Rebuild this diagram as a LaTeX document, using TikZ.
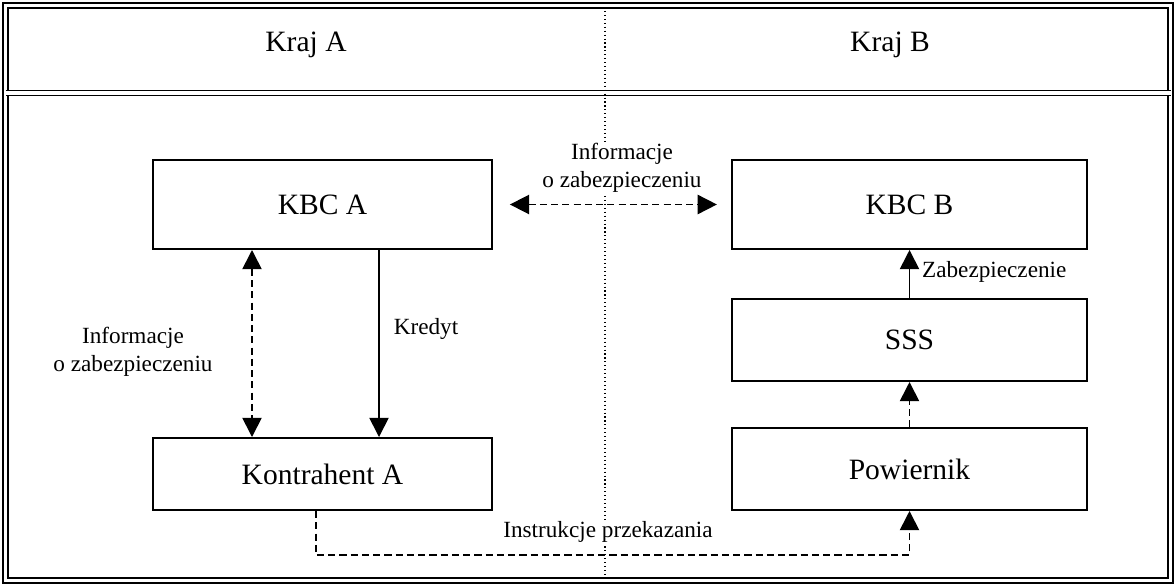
\documentclass[tikz,border=0pt]{standalone}
\usepackage{fontspec}
\setmainfont{Liberation Serif}
\usetikzlibrary{arrows.meta,positioning,calc}

\begin{document}
\begin{tikzpicture}[x=.025cm,y=-.025cm,>={Triangle[length=4.8mm,width=4.8mm]},line width=1pt,every node/.style={font=\fontsize{16.5}{20}\selectfont},box/.style={draw,line width=1.4pt,inner sep=0pt,font=\fontsize{21}{25}\selectfont},lbl/.style={align=center,fill=white,inner sep=1pt},flow/.style={->,line width=1.2pt},info/.style={flow,dash pattern=on 5pt off 3pt}]
\path[use as bounding box] (0,0) rectangle (1176,586);

% frame and countries
\draw[double,double distance=2.2pt,line width=1.2pt] (5.5,5.5) rectangle (1170.5,580.5);
\draw[double,double distance=2.2pt,line width=1.2pt] (5.5,93) -- (1170.5,93);
\draw[dotted,line width=.8pt] (605,7) -- (605,579);
\node[font=\fontsize{21}{25}\selectfont] (krajA) at (306,45) {Kraj A};
\node[font=\fontsize{21}{25}\selectfont] (krajB) at (890,45) {Kraj B};

\node[box,minimum width=8.475cm,minimum height=2.225cm] (kbca) at (322.5,204.5) {KBC A};
\node[box,minimum width=8.875cm,minimum height=2.225cm] (kbcb) at (909.5,204.5) {KBC B};
\node[box,minimum width=8.875cm,minimum height=2.05cm] (sss) at (909.5,340) {SSS};
\node[box,minimum width=8.875cm,minimum height=2.05cm] (pow) at (909.5,469) {Powiernik};
\node[box,minimum width=8.475cm,minimum height=1.8cm] (kontr) at (322.5,474) {Kontrahent A};

\coordinate (li) at (252,0);
\coordinate (lk) at (379,0);
\coordinate (ia) at (316,555);
\coordinate (ib) at (909.5,555);

\draw[info,<->,shorten <=12pt,shorten >=10pt] (kbca.east) -- (kbcb.west);
\draw[info,<->] (kbca.south -| li) -- (kontr.north -| li);
\draw[flow] (kbca.south -| lk) -- (kontr.north -| lk);
\draw[flow] (sss.north) -- (kbcb.south);
\draw[info] (sss |- pow.north) -- (sss.south);
\draw[info] (kontr.south -| ia) -- (ia) -- (ib) -- (pow.south);

\node[lbl] (infoAB) at (622,168) {Informacje\\o zabezpieczeniu};
\node[lbl] (infoA) at (133,352) {Informacje\\o zabezpieczeniu};
\node[lbl] (kred) at (426,329) {Kredyt};
\node[lbl,anchor=west] (zab) at (920,272) {Zabezpieczenie};
\node[lbl] (instr) at (608,532) {Instrukcje przekazania};

\end{tikzpicture}
\end{document}
